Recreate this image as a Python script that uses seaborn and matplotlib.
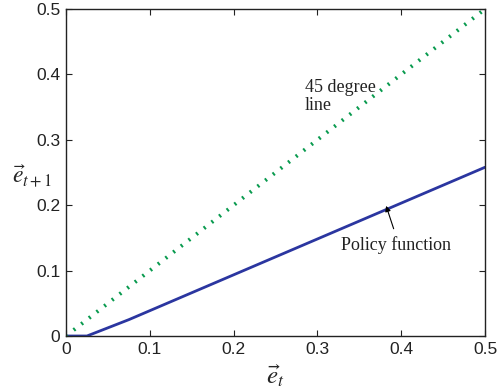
import matplotlib
matplotlib.use("Agg")
import matplotlib.pyplot as plt
import seaborn as sns
import pandas as pd

# data
policy_x = [0.0, 0.025, 0.075, 0.5]
policy_y = [0.0, 0.0, 0.025, 0.258]
diag_x = [0.0, 0.5]
diag_y = [0.0, 0.5]
ticks = [0, 0.1, 0.2, 0.3, 0.4, 0.5]
tick_labels = ["0", "0.1", "0.2", "0.3", "0.4", "0.5"]

sns.set_style("ticks")
plt.rcParams['font.family'] = ['Liberation Sans', 'DejaVu Sans']
plt.rcParams['mathtext.fontset'] = 'stix'

fig = plt.figure(figsize=(4.99, 3.92), dpi=100)
ax = fig.add_axes([66/499, 56/392, 419/499, 327/392])

pol = pd.DataFrame({"x": policy_x, "y": policy_y})
sns.lineplot(data=pol, x="x", y="y", ax=ax, color="#2b36a0", lw=2, sort=False)
ax.plot(diag_x, diag_y, color="#089a4e", lw=2.8, linestyle=(0, (0.5, 2.0)))

ax.set_xlim(0, 0.5)
ax.set_ylim(0, 0.5)
ax.set_xticks(ticks)
ax.set_xticklabels(tick_labels)
ax.set_yticks(ticks)
ax.set_yticklabels(tick_labels)
ax.tick_params(direction="in", top=True, right=True, labelsize=12.5, length=4, width=0.8, colors="#222222", pad=4)
for s in ax.spines.values():
    s.set_visible(True)
    s.set_linewidth(1.0)
    s.set_color("#222222")

ax.set_xlabel(r"$\vec{e}_t$", fontsize=18, labelpad=4)
ax.set_ylabel(r"$\vec{e}_{t+1}$", fontsize=17, rotation=0, ha="left", va="center")
ax.yaxis.set_label_coords(-0.13, 0.49)

ax.text(0.285, 0.393, "45 degree\nline", fontsize=13, family="Liberation Serif",
        va="top", ha="left", linespacing=1.05, color="#222222")
ax.text(0.328, 0.131, "Policy function", fontsize=13, family="Liberation Serif",
        va="baseline", ha="left", color="#222222")
ax.annotate("", xy=(0.382, 0.199), xytext=(0.391, 0.164),
            arrowprops=dict(arrowstyle="-|>", color="black", lw=0.8,
                            shrinkA=0, shrinkB=0, mutation_scale=8))

fig.savefig("out.png", dpi=100)
